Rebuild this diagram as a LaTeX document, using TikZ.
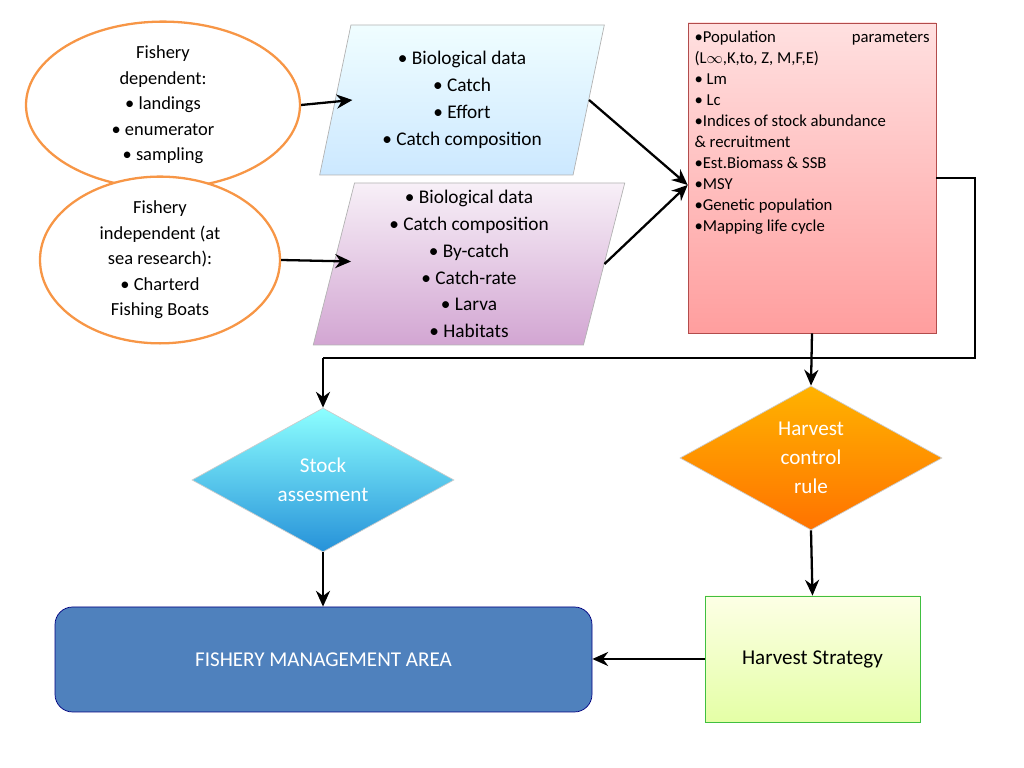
\documentclass[tikz,border=0pt]{standalone}
\usepackage{fontspec}
\setmainfont{Carlito}
\usetikzlibrary{shapes.geometric,arrows.meta,positioning,calc}
\definecolor{ovalline}{HTML}{F79646}
\definecolor{mgmtblue}{HTML}{4F81BD}
\tikzset{
  oval/.style={ellipse, draw=ovalline, line width=1.3pt, fill=white, align=center, inner sep=0pt, font=\fontsize{10.5}{14.5}\selectfont},
  para/.style={trapezium, trapezium stretches=true, draw=gray!60, align=center, inner sep=0pt, font=\fontsize{11}{15.3}\selectfont},
  dia/.style={diamond, draw=gray!40, minimum width=5.24cm, minimum height=2.88cm, inner sep=0pt, align=center, font=\fontsize{12}{16.5}\selectfont},
  arr/.style={line width=1.3pt, -{Stealth[length=9pt,width=8pt]}}
}
\begin{document}
\begin{tikzpicture}
\useasboundingbox (0,0) rectangle (20.48,15.36);

% sources
\node[oval, minimum width=5.48cm, minimum height=3.28cm] (dep) at (3.26,13.26)
  {Fishery\\dependent:\\\textbullet\ landings\\\textbullet\ enumerator\\\textbullet\ sampling};
\node[oval, minimum width=4.8cm, minimum height=2.88cm] (indep) at (3.2,10.16)
  {Fishery\\independent (at\\sea research):\\\textbullet\ Charterd\\Fishing Boats};

% data
\node[para, trapezium left angle=77, trapezium right angle=103, minimum width=5.7cm, minimum height=3cm,
  top color=blue!10!cyan!6, bottom color=blue!45!cyan!20] (data1) at (9.24,13.36)
  {\textbullet\ Biological data\\\textbullet\ Catch\\\textbullet\ Effort\\\textbullet\ Catch composition};
\node[para, trapezium left angle=79, trapezium right angle=101, minimum width=6.24cm, minimum height=3.24cm,
  top color=violet!6, bottom color=violet!35] (data2) at (9.38,10.08)
  {\textbullet\ Biological data\\\textbullet\ Catch composition\\\textbullet\ By-catch\\\textbullet\ Catch-rate\\\textbullet\ Larva\\\textbullet\ Habitats};

% parameters
\node[draw=red!40!gray, top color=red!12, bottom color=red!38, minimum width=4.96cm, minimum height=6.2cm,
  inner sep=0pt, font=\fontsize{9.5}{12}\selectfont] (par) at (16.24,11.8)
  {\parbox[c][5.9cm][t]{4.7cm}{\textbullet Population\hfill parameters\\(L$\infty$,K,to, Z, M,F,E)\\\textbullet\ Lm\\\textbullet\ Lc\\
   \textbullet Indices of stock abundance\\\& recruitment\\\textbullet Est.Biomass \& SSB\\\textbullet MSY\\
   \textbullet Genetic population\\\textbullet Mapping life cycle}};

% decisions
\node[dia, top color=cyan!45, bottom color=cyan!60!blue!70!gray, text=white] (stock) at (6.46,5.76) {Stock\\assesment};
\node[dia, top color=orange!60!yellow, bottom color=orange!90!red, text=white] (hcr) at (16.22,6.2) {Harvest\\control\\rule};

% outcomes
\node[draw=blue!50!black, rounded corners=10pt, fill=mgmtblue, minimum width=10.74cm, minimum height=2.1cm,
  text=white, font=\fontsize{12}{15}\selectfont] (fma) at (6.47,2.17) {FISHERY MANAGEMENT AREA};
\node[draw=green!50!gray, top color=green!8!yellow!10, bottom color=green!30!yellow!35, minimum width=4.3cm, minimum height=2.52cm,
  font=\fontsize{12}{15}\selectfont] (hs) at (16.25,2.18) {Harvest Strategy};

\coordinate (fbA) at (19.5,11.8);
\coordinate (fbB) at (19.5,8.2);
\coordinate (fbC) at (stock.north |- fbB);

\draw[arr] (dep.east) -- ($(data1.west)+(0.35,0)$);
\draw[arr] (indep.east) -- ($(data2.west)+(0.35,0.05)$);
\draw[arr] (data1.east) -- ($(par.west)+(0,-0.14)$);
\draw[arr] (data2.east) -- ($(par.west)+(0,-0.14)$);
\draw[line width=1.3pt] (par.east) -- (fbA) -- (fbB) -- (fbC);
\draw[arr] (fbC) -- (stock.north);
\draw[arr] (par.south) -- (hcr.north);
\draw[arr] (stock.south) -- (fma.north -| stock.south);
\draw[arr] (hcr.south) -- (hs.north);
\draw[arr] (hs.west) -- (fma.east |- hs.west);
\end{tikzpicture}
\end{document}
